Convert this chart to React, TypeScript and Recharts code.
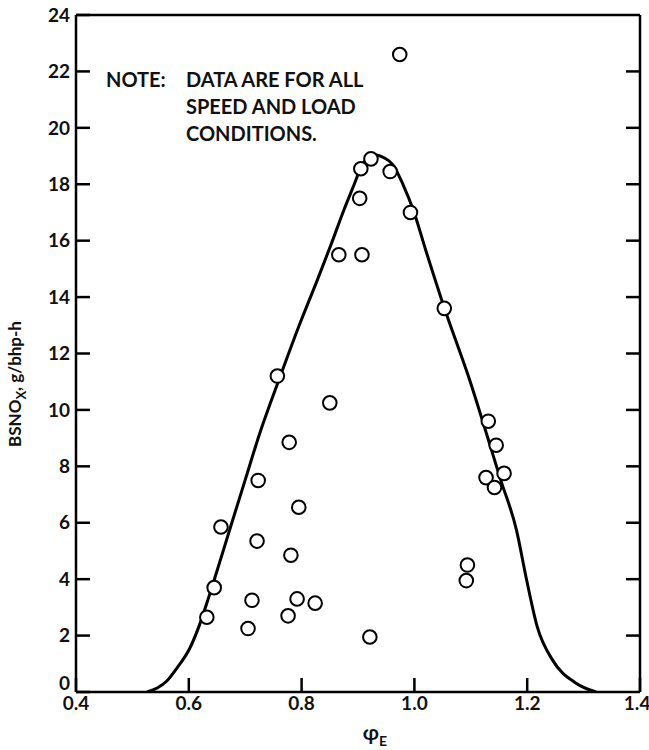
import React from 'react';
import { ComposedChart, Line, Scatter, XAxis, YAxis, ReferenceLine, Label } from 'recharts';

// measured points (phi_E, BSNOx g/bhp-h)
const pointX = [0.974, 0.923, 0.905, 0.957, 0.903, 0.993, 0.866, 0.907, 1.053, 0.757, 0.85, 0.778, 1.131, 1.145, 0.723, 1.127, 1.159, 1.142, 0.795, 0.657, 0.721, 0.781, 1.094, 1.092, 0.645, 0.712, 0.792, 0.824, 0.776, 0.632, 0.705, 0.921];
const pointY = [22.6, 18.9, 18.55, 18.45, 17.5, 17.0, 15.5, 15.5, 13.6, 11.2, 10.25, 8.85, 9.6, 8.75, 7.5, 7.6, 7.75, 7.25, 6.55, 5.85, 5.35, 4.85, 4.5, 3.95, 3.7, 3.25, 3.3, 3.15, 2.7, 2.65, 2.25, 1.95];

// faired envelope curve
const curveX = [0.526, 0.544, 0.561, 0.579, 0.602, 0.619, 0.631, 0.645, 0.674, 0.7, 0.726, 0.761, 0.796, 0.828, 0.852, 0.875, 0.893, 0.905, 0.917, 0.932, 0.946, 0.962, 0.98, 0.998, 1.02, 1.053, 1.098, 1.135, 1.153, 1.181, 1.199, 1.218, 1.245, 1.286, 1.322];
const curveY = [0, 0.14, 0.39, 0.85, 1.56, 2.38, 3.09, 3.97, 5.85, 7.52, 9.18, 11.13, 13.01, 14.61, 15.85, 17.09, 17.98, 18.58, 18.94, 19.04, 18.94, 18.69, 17.98, 17.09, 15.67, 13.62, 11.06, 8.69, 7.52, 5.74, 3.97, 2.3, 1.13, 0.32, 0];

const xTicks = [0.4, 0.6, 0.8, 1.0, 1.2, 1.4];
const yTicks = [0, 2, 4, 6, 8, 10, 12, 14, 16, 18, 20, 22, 24];
const rightTicks = [2, 4, 6, 8, 10, 12, 14, 16, 18, 20, 22];
const noteLines = ['DATA ARE FOR ALL', 'SPEED AND LOAD', 'CONDITIONS.'];

const points = pointX.map((x, i) => ({ x, y: pointY[i] }));
const curve = curveX.map((x, i) => ({ x, y: curveY[i] }));

const FONT = 'Lato, "DejaVu Sans", sans-serif';
const tickStyle = { fill: '#111', fontSize: 19, fontWeight: 700, fontFamily: FONT };

const Ring = (props: any) => (
  <circle cx={props.cx} cy={props.cy} r={6.8} fill="#fff" stroke="#000" strokeWidth={2} />
);

// left labels; the 0 sits a bit above the x axis like the original
const YTick = (p: any) => (
  <text
    x={p.x}
    y={p.y + (p.payload.value === 0 ? -9 : 0)}
    dy="0.355em"
    textAnchor="end"
    {...tickStyle}
  >
    {p.payload.value}
  </text>
);

export default function App() {
  return (
    <div style={{ position: 'absolute', left: 0, top: 0, width: 649, height: 750, background: '#fff', fontFamily: FONT }}>
      <ComposedChart width={649} height={750} margin={{ top: 15, right: 0, bottom: 0, left: 0 }}>
        <XAxis
          type="number"
          dataKey="x"
          domain={[0.4, 1.4]}
          ticks={xTicks}
          tickFormatter={(v: number) => v.toFixed(1)}
          allowDataOverflow
          height={58}
          tickSize={-14}
          tickMargin={19}
          stroke="#000"
          strokeWidth={2.5}
          tick={tickStyle}
        >
          <Label
            content={(p: any) => {
              const vb = p.viewBox;
              const cx = vb.x + vb.width * 0.53;
              return (
                <text x={cx} y={vb.y + 48} fontFamily={FONT} fontWeight={700} fill="#111" textAnchor="middle">
                  <tspan fontSize={21}>φ</tspan>
                  <tspan fontSize={14} dy={6}>E</tspan>
                </text>
              );
            }}
          />
        </XAxis>
        <YAxis
          yAxisId="l"
          type="number"
          dataKey="y"
          domain={[0, 24]}
          ticks={yTicks}
          allowDataOverflow
          width={76}
          tickSize={-14}
          tickMargin={20}
          stroke="#000"
          strokeWidth={2.5}
          tick={YTick}
        >
          <Label
            content={() => (
              <text
                transform="translate(21,384) rotate(-90)"
                fontFamily={FONT}
                fontWeight={700}
                fill="#111"
                textAnchor="middle"
              >
                <tspan fontSize={17}>BSNO</tspan>
                <tspan fontSize={13} dy={5}>X</tspan>
                <tspan fontSize={17} dy={-5}>, g/bhp-h</tspan>
              </text>
            )}
          />
        </YAxis>
        <YAxis
          yAxisId="r"
          orientation="right"
          type="number"
          domain={[0, 24]}
          ticks={rightTicks}
          allowDataOverflow
          width={9}
          tickSize={-14}
          tickMargin={0}
          stroke="#000"
          strokeWidth={2.5}
          tick={() => <g />}
        />
        <ReferenceLine yAxisId="l" y={24} stroke="#000" strokeWidth={2.5} />
        <Line
          yAxisId="l"
          data={curve}
          dataKey="y"
          type="monotone"
          stroke="#000"
          strokeWidth={3}
          dot={false}
          activeDot={false}
          isAnimationActive={false}
        />
        <Scatter yAxisId="l" data={points} shape={Ring} isAnimationActive={false} />
      </ComposedChart>
      <div style={{ position: 'absolute', left: 106, top: 66, fontSize: 20, fontWeight: 700, lineHeight: '27px', color: '#111' }}>
        NOTE:
      </div>
      <div style={{ position: 'absolute', left: 186, top: 66, fontSize: 20, fontWeight: 700, lineHeight: '27px', color: '#111' }}>
        {noteLines.map((t) => (
          <div key={t}>{t}</div>
        ))}
      </div>
    </div>
  );
}
